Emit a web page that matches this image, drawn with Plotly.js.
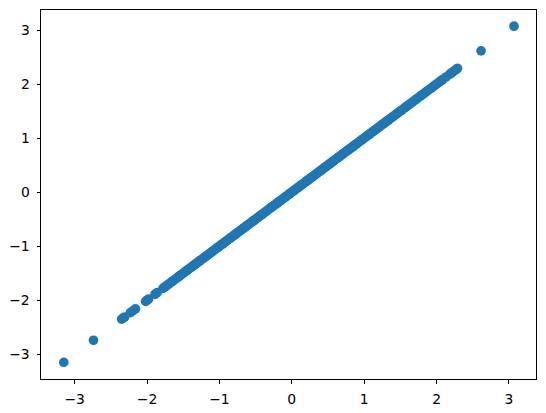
<!DOCTYPE html>
<html>
<head>
<meta charset="utf-8">
<script src="https://cdn.plot.ly/plotly-3.0.1.min.js"></script>
<style>html,body{margin:0;padding:0;background:#fff;}#chart{width:546px;height:413px;}</style>
</head>
<body>
<div id="chart"></div>
<script>
// Sample values (the chart plots the sample against itself)
const values = [
  -3.15, -2.74, -2.35, -2.33, -2.31, -2.23, -2.19, -2.16, -2.02, -2.0, -1.98, -1.89, -1.86,
  -1.78, -1.76, -1.74, -1.71, -1.69, -1.66, -1.64, -1.61, -1.58, -1.56, -1.55, -1.53, -1.50,
  -1.48, -1.46, -1.44, -1.43, -1.41, -1.38, -1.36, -1.35, -1.33, -1.31, -1.29, -1.27, -1.26,
  -1.24, -1.22, -1.20, -1.18, -1.17, -1.15, -1.13, -1.11, -1.10, -1.08, -1.06, -1.04, -1.03,
  -1.01, -0.99, -0.97, -0.96, -0.94, -0.92, -0.91, -0.89, -0.87, -0.85, -0.84, -0.82, -0.80,
  -0.79, -0.77, -0.75, -0.73, -0.72, -0.70, -0.68, -0.66, -0.65, -0.63, -0.61, -0.60, -0.58,
  -0.56, -0.54, -0.53, -0.51, -0.49, -0.47, -0.46, -0.44, -0.42, -0.41, -0.39, -0.37, -0.35,
  -0.34, -0.32, -0.30, -0.28, -0.27, -0.25, -0.23, -0.21, -0.20, -0.18, -0.16, -0.15, -0.13,
  -0.11, -0.09, -0.08, -0.06, -0.04, -0.03, -0.01, 0.01, 0.02, 0.04, 0.06, 0.08, 0.09, 0.11,
  0.13, 0.14, 0.16, 0.18, 0.20, 0.21, 0.23, 0.25, 0.27, 0.28, 0.30, 0.32, 0.33, 0.35, 0.37,
  0.39, 0.40, 0.42, 0.44, 0.46, 0.47, 0.49, 0.51, 0.52, 0.54, 0.56, 0.58, 0.59, 0.61, 0.63,
  0.65, 0.66, 0.68, 0.70, 0.71, 0.73, 0.75, 0.77, 0.78, 0.80, 0.82, 0.84, 0.85, 0.87, 0.89,
  0.90, 0.92, 0.94, 0.96, 0.97, 0.99, 1.01, 1.03, 1.04, 1.06, 1.08, 1.10, 1.12, 1.13, 1.15,
  1.17, 1.19, 1.21, 1.23, 1.25, 1.26, 1.28, 1.30, 1.32, 1.34, 1.36, 1.38, 1.40, 1.42, 1.44,
  1.46, 1.48, 1.50, 1.52, 1.55, 1.57, 1.59, 1.62, 1.64, 1.67, 1.70, 1.72, 1.75, 1.78, 1.80,
  1.83, 1.86, 1.88, 1.91, 1.93, 1.96, 1.98, 2.01, 2.04, 2.06, 2.08, 2.13, 2.18, 2.20, 2.22,
  2.25, 2.27, 2.29, 2.615, 3.07
];
const tickVals = [-3, -2, -1, 0, 1, 2, 3];
const tickText = ['\u22123', '\u22122', '\u22121', '0', '1', '2', '3'];

const axisCommon = {
  showgrid: false, zeroline: false, showline: true, mirror: true,
  linecolor: '#000', linewidth: 1,
  ticks: 'outside', ticklen: 3.5, tickwidth: 1, tickcolor: '#000',
  tickvals: tickVals, ticktext: tickText,
  tickfont: {family: 'DejaVu Sans', size: 13.9, color: '#000'}
};

Plotly.newPlot('chart', [{
  type: 'scatter', mode: 'markers',
  x: values, y: values,
  marker: {color: '#1f77b4', size: 9.7, line: {width: 0}},
  hoverinfo: 'none'
}], {
  width: 546, height: 413,
  margin: {l: 41, r: 10, t: 10, b: 34, pad: 0},
  paper_bgcolor: '#fff', plot_bgcolor: '#fff',
  showlegend: false,
  xaxis: Object.assign({}, axisCommon, {range: [-3.465, 3.374], ticklabelstandoff: 4}),
  yaxis: Object.assign({}, axisCommon, {range: [-3.457, 3.37], ticklabelstandoff: 4})
}, {staticPlot: true, displayModeBar: false});
</script>
</body>
</html>
